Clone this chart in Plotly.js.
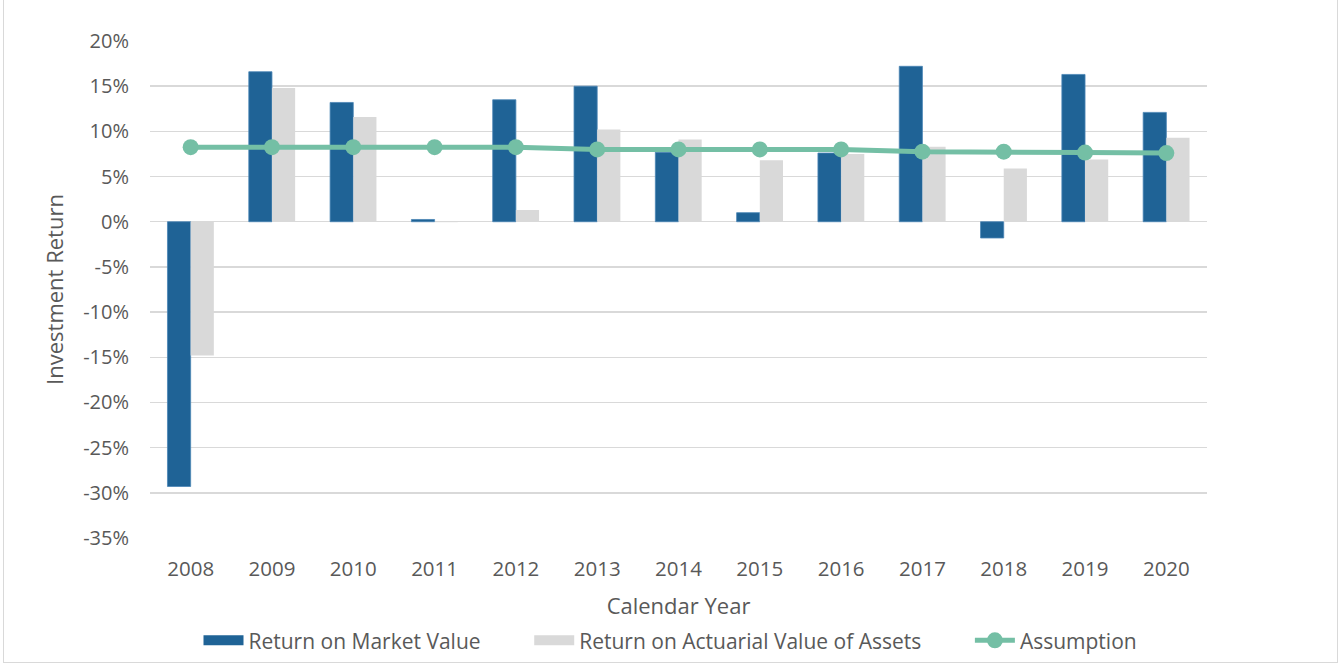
<!DOCTYPE html>
<html>
<head>
<meta charset="utf-8">
<script src="https://cdn.plot.ly/plotly-3.0.1.min.js"></script>
<style>
html,body{margin:0;padding:0;background:#fff;}
#frame{position:absolute;left:3px;top:-2px;width:1335px;height:665px;border:1px solid #d9d9d9;box-sizing:border-box;pointer-events:none;z-index:5;}
#chart{position:absolute;left:0;top:0;width:1341px;height:666px;}
</style>
</head>
<body>
<div id="chart"></div>
<div id="frame"></div>
<script>
var years = ['2008','2009','2010','2011','2012','2013','2014','2015','2016','2017','2018','2019','2020'];
var marketValue = [-29.3, 16.6, 13.2, 0.25, 13.5, 15.0, 7.7, 1.0, 7.6, 17.2, -1.8, 16.3, 12.1];
var actuarialValue = [-14.8, 14.8, 11.6, -0.05, 1.3, 10.2, 9.1, 6.8, 7.5, 8.3, 5.9, 6.9, 9.3];
var assumption = [8.25, 8.25, 8.25, 8.25, 8.25, 8.0, 8.0, 8.0, 8.0, 7.75, 7.75, 7.65, 7.6];
var yTicks = [20,15,10,5,0,-5,-10,-15,-20,-25,-30,-35];
var yTickText = yTicks.map(function(v){return v+'%';});

var font = 'Open Sans, Noto Sans, sans-serif';
var mvColor = '#1f6396', avaColor = '#d9d9d9', asColor = '#74bfa5';
var pad = '\u00a0\u00a0\u00a0\u00a0\u00a0\u00a0\u00a0\u00a0';
var traces = [
  {type:'bar', name:'Return on Market Value', x:years, y:marketValue, showlegend:false,
   marker:{color:mvColor, line:{color:'#4a85b5', width:0.8}}},
  {type:'bar', name:'Return on Actuarial Value of Assets', x:years, y:actuarialValue, showlegend:false,
   marker:{color:avaColor}},
  {type:'scatter', mode:'lines+markers', name:'Assumption', x:years, y:assumption, showlegend:false,
   line:{color:asColor, width:5}, marker:{color:asColor, size:16}},
  // legend entries
  {type:'scatter', mode:'lines', name:'Return on Market Value' + pad, x:[null], y:[null],
   line:{color:mvColor, width:16}},
  {type:'scatter', mode:'lines', name:'Return on Actuarial Value of Assets' + pad, x:[null], y:[null],
   line:{color:avaColor, width:16}},
  {type:'scatter', mode:'lines+markers', name:'Assumption', x:[null], y:[null],
   line:{color:asColor, width:5}, marker:{color:asColor, size:16}}
];
var layout = {
  width:1341, height:666,
  margin:{l:150, r:134, t:41, b:128},
  paper_bgcolor:'#fff', plot_bgcolor:'#fff',
  barmode:'group', bargap:0.43, bargroupgap:0,
  font:{family:font, color:'#595959', size:20},
  xaxis:{type:'category', categoryarray:years, categoryorder:'array', range:[-0.5, 12.5],
    showgrid:false, zeroline:false, showline:false, automargin:false,
    ticks:'', tickfont:{size:20.5, color:'#595959'}, ticklabelstandoff:16,
    title:{text:'Calendar Year', font:{size:22, color:'#595959'}, standoff:22}},
  yaxis:{range:[-35,20], tickvals:yTicks, ticktext:yTickText, automargin:false,
    showgrid:true, gridcolor:'#d9d9d9', gridwidth:1.5,
    zeroline:true, zerolinecolor:'#d9d9d9', zerolinewidth:1.5,
    ticks:'', tickfont:{size:20, color:'#595959'}, ticklabelstandoff:20,
    title:{text:'Investment Return', font:{size:22, color:'#595959'}, standoff:13}},
  legend:{orientation:'h', x:0.5, xanchor:'center', xref:'container', y:0.038, yanchor:'middle', yref:'container',
    font:{size:21, color:'#595959'}, itemwidth:40, tracegroupgap:0},
  showlegend:true
};
Plotly.newPlot('chart', traces, layout, {displayModeBar:false, staticPlot:true});
</script>
</body>
</html>
